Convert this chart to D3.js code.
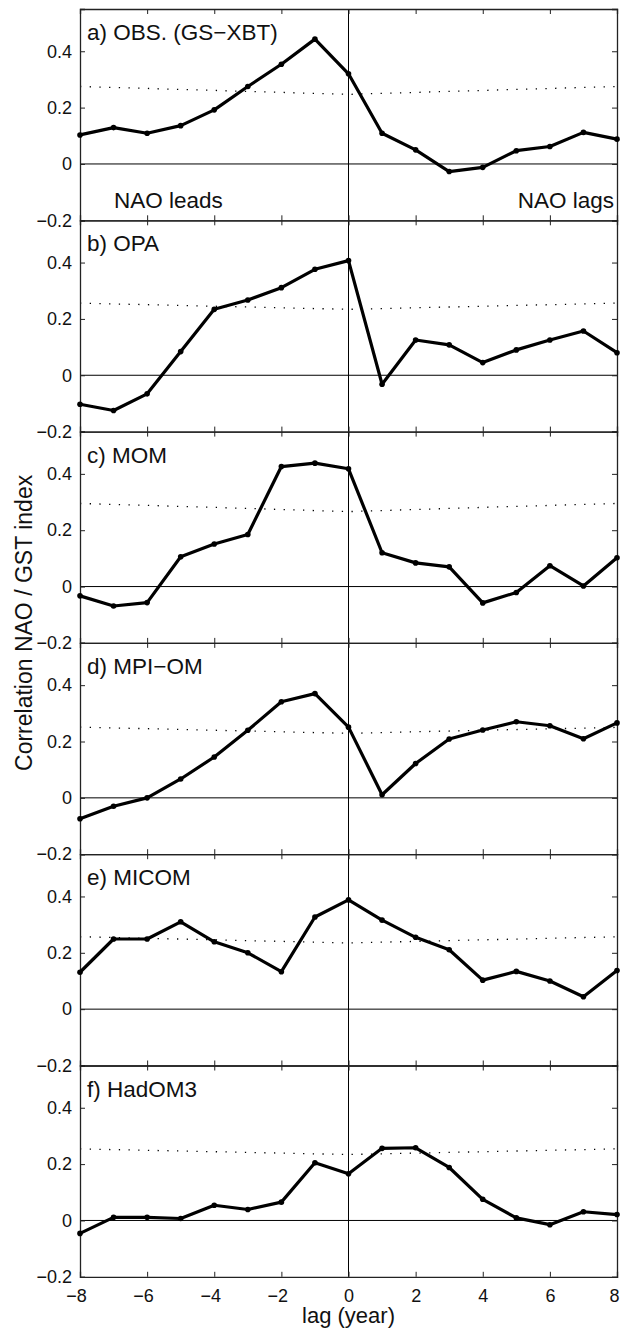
<!DOCTYPE html>
<html>
<head>
<meta charset="utf-8">
<script src="https://cdn.jsdelivr.net/npm/d3@7"></script>
<style>
  body { margin: 0; background: #fff; }
  text { font-family: "Liberation Sans", Arial, sans-serif; fill: #111; }
</style>
</head>
<body>
<div id="chart"></div>
<script>
const lags = [-8, -7, -6, -5, -4, -3, -2, -1, 0, 1, 2, 3, 4, 5, 6, 7, 8];

// correlation NAO / GST index, one series per panel
const obs    = [0.103, 0.129, 0.109, 0.136, 0.192, 0.275, 0.354, 0.443, 0.320, 0.109, 0.050, -0.027, -0.012, 0.047, 0.062, 0.112, 0.088];
const opa    = [-0.103, -0.125, -0.066, 0.084, 0.234, 0.267, 0.311, 0.376, 0.407, -0.032, 0.125, 0.108, 0.045, 0.090, 0.125, 0.157, 0.080];
const mom    = [-0.033, -0.069, -0.057, 0.106, 0.151, 0.185, 0.426, 0.438, 0.418, 0.120, 0.084, 0.070, -0.058, -0.021, 0.074, 0.002, 0.102];
const mpiom  = [-0.074, -0.030, 0.000, 0.067, 0.145, 0.240, 0.341, 0.370, 0.251, 0.011, 0.122, 0.209, 0.241, 0.270, 0.256, 0.210, 0.266];
const micom  = [0.131, 0.249, 0.249, 0.310, 0.239, 0.200, 0.133, 0.327, 0.388, 0.316, 0.255, 0.211, 0.103, 0.134, 0.100, 0.044, 0.137];
const hadom3 = [-0.046, 0.011, 0.011, 0.007, 0.054, 0.039, 0.065, 0.205, 0.166, 0.256, 0.258, 0.188, 0.075, 0.009, -0.015, 0.031, 0.021];

// significance level (dotted), read at a few lags
const sigLags = [-8, -4, 0, 4, 8];
const sigObs    = [0.275, 0.261, 0.247, 0.261, 0.275];
const sigOpa    = [0.256, 0.245, 0.234, 0.245, 0.256];
const sigMom    = [0.295, 0.281, 0.266, 0.281, 0.295];
const sigMpiom  = [0.251, 0.240, 0.229, 0.240, 0.250];
const sigMicom  = [0.257, 0.246, 0.235, 0.246, 0.257];
const sigHadom3 = [0.254, 0.244, 0.234, 0.244, 0.254];

const titles = ["a) OBS. (GS\u2212XBT)", "b) OPA", "c) MOM", "d) MPI\u2212OM", "e) MICOM", "f) HadOM3"];
const series = [obs, opa, mom, mpiom, micom, hadom3];
const sigs = [sigObs, sigOpa, sigMom, sigMpiom, sigMicom, sigHadom3];

const xTicks = [-8, -6, -4, -2, 0, 2, 4, 6, 8];
const yTicks = [-0.2, 0, 0.2, 0.4];

const W = 621, H = 1333;
const left = 80, right = 617, top0 = 9, panelH = 211.3;

const svg = d3.select("#chart").append("svg")
  .attr("width", W).attr("height", H);

const x = d3.scaleLinear().domain([-8, 8]).range([left, right]);
const minus = s => s.replace("-", "\u2212");
const fmtY = d => d === 0 ? "0" : minus(d3.format(".1f")(d));
const fmtX = d => minus(String(d));

series.forEach((vals, i) => {
  const top = top0 + i * panelH;
  const y = d3.scaleLinear().domain([-0.2, 0.55]).range([top + panelH, top]);
  const g = svg.append("g");

  // zero lines
  g.append("line").attr("x1", left).attr("x2", right)
    .attr("y1", y(0)).attr("y2", y(0)).attr("stroke", "#000").attr("stroke-width", 1);
  g.append("line").attr("x1", x(0)).attr("x2", x(0))
    .attr("y1", top).attr("y2", top + panelH).attr("stroke", "#000").attr("stroke-width", 1);

  // significance level
  g.append("path")
    .datum(sigLags.map((l, k) => [l, sigs[i][k]]))
    .attr("fill", "none").attr("stroke", "#000").attr("stroke-width", 1.3)
    .attr("stroke-dasharray", "1.3 8.4")
    .attr("d", d3.line().x(d => x(d[0])).y(d => y(d[1])));

  // axes, ticks inward
  g.append("g").attr("transform", `translate(${left},0)`)
    .call(d3.axisLeft(y).tickValues(yTicks).tickSize(-5).tickPadding(8).tickFormat(fmtY));
  g.append("g").attr("transform", `translate(${right},0)`)
    .call(d3.axisRight(y).tickValues(yTicks).tickSize(-5).tickFormat(""));
  g.append("g").attr("transform", `translate(0,${top})`)
    .call(d3.axisTop(x).tickValues(xTicks).tickSize(-5).tickFormat(""));
  const bx = g.append("g").attr("transform", `translate(0,${top + panelH})`)
    .call(d3.axisBottom(x).tickValues(xTicks).tickSize(-5).tickPadding(12).tickFormat(fmtX));
  if (i < series.length - 1) bx.selectAll("text").remove();
  else bx.selectAll(".tick text").attr("dx", d => d < 0 ? -4 : d === 8 ? -3 : 0);

  g.selectAll(".domain").attr("stroke", "#222").attr("stroke-width", 1.3);
  g.selectAll(".tick line").attr("stroke", "#222");
  g.selectAll(".tick text").style("font-size", "18px").attr("fill", "#111");

  // data
  const pts = lags.map((l, k) => [l, vals[k]]);
  g.append("path").datum(pts)
    .attr("fill", "none").attr("stroke", "#000").attr("stroke-width", 3.2)
    .attr("stroke-linejoin", "round")
    .attr("d", d3.line().x(d => x(d[0])).y(d => y(d[1])));
  g.selectAll("circle").data(pts).join("circle")
    .attr("cx", d => x(d[0])).attr("cy", d => y(d[1])).attr("r", 2.8).attr("fill", "#000");

  g.append("text").attr("x", left + 7).attr("y", top + 31)
    .style("font-size", "22.5px").text(titles[i]);

  if (i === 0) {
    g.append("text").attr("x", left + 34).attr("y", top + panelH - 12)
      .style("font-size", "22.5px").text("NAO leads");
    g.append("text").attr("x", right - 3).attr("y", top + panelH - 12)
      .attr("text-anchor", "end").style("font-size", "22.5px").text("NAO lags");
  }
});

svg.append("text")
  .attr("x", x(0)).attr("y", 1323)
  .attr("text-anchor", "middle").style("font-size", "22px").text("lag (year)");

svg.append("text")
  .attr("transform", `translate(32,${top0 + 3 * panelH - 20}) rotate(-90)`)
  .attr("text-anchor", "middle").style("font-size", "23px").text("Correlation NAO / GST index");
</script>
</body>
</html>
